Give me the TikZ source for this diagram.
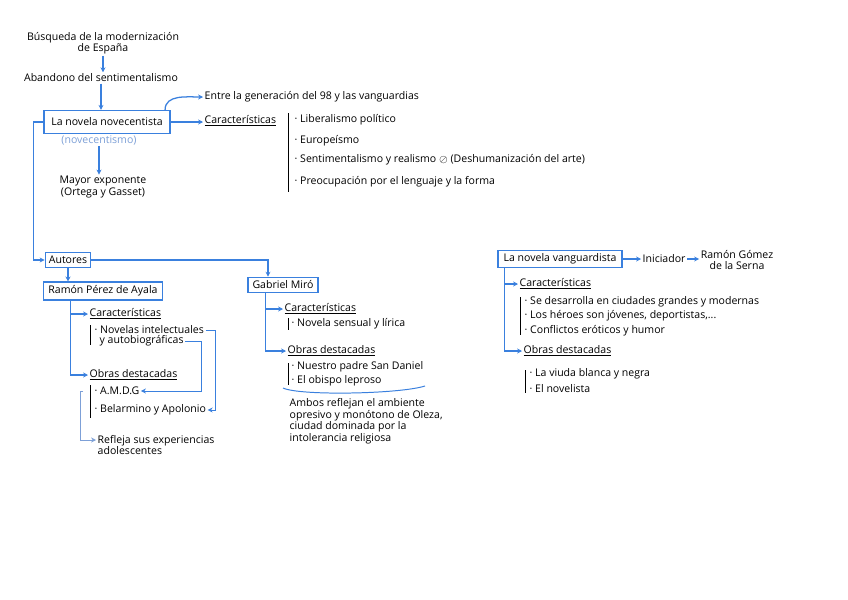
\documentclass[tikz,border=0pt]{standalone}
\usepackage{fontspec}
\setmainfont{Open Sans}
\usepackage{tikz}
\usetikzlibrary{arrows.meta, positioning, calc}
\definecolor{mapblue}{RGB}{58, 128, 222}
\definecolor{paleblue}{RGB}{125, 160, 215}

\begin{document}
\begin{tikzpicture}[x=0.025cm, y=-0.025cm,
    every node/.style={font=\fontsize{7.5}{8.2}\selectfont, inner sep=1pt},
    topic/.style={draw=mapblue, line width=1pt, fill=white, inner sep=2.5pt},
    plain/.style={align=center},
    item/.style={anchor=west, align=left},
    heading/.style={anchor=west},
    arrow/.style={-{Stealth[length=3.5pt, width=3.5pt]}, mapblue, line width=0.9pt},
    thinarrow/.style={arrow, line width=0.6pt},
    softarrow/.style={arrow, paleblue, line width=0.6pt},
    bar/.style={black, line width=0.6pt}
]
    \fill[white] (0,0) rectangle (848,599);
    \useasboundingbox (0,0) rectangle (848,599);

    % Origins
    \node[plain] (busqueda) at (103,43) {Búsqueda de la modernización\\de España};
    \node[plain] (abandono) at (101,78) {Abandono del sentimentalismo};
    \node[topic, minimum width=3.15cm, minimum height=0.57cm] (novecentista) at (107,122) {La novela novecentista};
    \node[text=paleblue] (novecentismo) at (99,140) {(novecentismo)};
    \node[plain] (exponente) at (103,187) {Mayor exponente\\(Ortega y Gasset)};

    \draw[arrow] (busqueda.south) -- (busqueda.south |- abandono.north);
    \draw[arrow] (abandono.south) -- (abandono.south |- novecentista.north);
    \draw[arrow] (novecentismo.south) -- (novecentismo.south |- exponente.north);

    % Novela novecentista: rasgos
    \node[heading] (entre) at (203,97) {Entre la generación del 98 y las vanguardias};
    \node[heading] (carNov) at (203,121) {\underline{Características}};
    \node[item] (liberalismo) at (293,120) {· Liberalismo político};
    \node[item] (europeismo) at (293,141) {· Europeísmo};
    \node[item] (sentimiento) at (293,160) {· Sentimentalismo y realismo $\oslash$ (Deshumanización del arte)};
    \node[item] (lenguaje) at (293,182) {· Preocupación por el lenguaje y la forma};
    \draw[bar] (288,113) -- (288,192);

    \draw[arrow] ([xshift=-4pt]novecentista.north east) to[out=90, in=180] (entre.west);
    \draw[arrow] (novecentista.east) -- (novecentista.east -| carNov.west);

    % Autores
    \node[topic, minimum width=1.12cm] (autores) at (68,260) {Autores};
    \node[topic, minimum width=2.98cm] (ramon) at (103,291) {Ramón Pérez de Ayala};
    \node[topic, minimum width=1.75cm] (gabriel) at (283,285) {Gabriel Miró};

    \draw[arrow] (novecentista.west) -- ++(-10,0) |- (autores.west);
    \draw[arrow] (autores.south) -- (autores.south |- ramon.north);
    \draw[arrow] (autores.east) -| ($(gabriel.north)+(-15,0)$);

    % Ramon Perez de Ayala
    \node[heading] (carRamon) at (88,314) {\underline{Características}};
    \node[item] (novelasA) at (93,330) {· Novelas intelectuales};
    \node[item] (novelasB) at (98,341) {y autobiográficas};
    \node[heading] (obrasRamon) at (88,375) {\underline{Obras destacadas}};
    \node[item] (amdg) at (93,391) {· A.M.D.G};
    \node[item] (belarmino) at (93,410) {· Belarmino y Apolonio};
    \node[item] (refleja) at (96,445) {Refleja sus experiencias\\adolescentes};
    \draw[bar] (90,325) -- (90,345);
    \draw[bar] (90,385) -- (90,418);

    \draw[arrow] ($(ramon.south west)+(28,0)$) |- (carRamon.west);
    \draw[arrow] ($(ramon.south west)+(28,0)$) |- (obrasRamon.west);
    \draw[thinarrow] (novelasA.east) -- ++(10,0) |- (belarmino.east);
    \draw[thinarrow] (novelasB.east) -- ++(16,0) |- (amdg.east);
    \draw[softarrow] ($(amdg.west)+(-10,0)$) -- ++(-3,0) |- ($(refleja.west)+(0,-5)$);

    % Gabriel Miro
    \node[heading] (carGabriel) at (283,309) {\underline{Características}};
    \node[item] (sensual) at (290,324) {· Novela sensual y lírica};
    \node[heading] (obrasGabriel) at (286,351) {\underline{Obras destacadas}};
    \node[item] (daniel) at (290,367) {· Nuestro padre San Daniel};
    \node[item] (obispo) at (290,381) {· El obispo leproso};
    \node[item, anchor=north west] (ambos) at (288,397)
        {Ambos reflejan el ambiente\\opresivo y monótono de Oleza,\\ciudad dominada por la\\intolerancia religiosa};
    \draw[bar] (288,318) -- (288,330);
    \draw[bar] (288,363) -- (288,385);
    \draw[mapblue, line width=0.7pt] (283,388) .. controls (300,396) and (400,394) .. (425,386);

    \draw[arrow] ($(gabriel.south west)+(18,0)$) |- (carGabriel.west);
    \draw[arrow] ($(gabriel.south west)+(18,0)$) |- (obrasGabriel.west);

    % Novela vanguardista
    \node[topic, minimum width=3.1cm] (vanguardista) at (560,259) {La novela vanguardista};
    \node[heading] (iniciador) at (641,259) {Iniciador};
    \node[plain] (gomez) at (737,260) {Ramón Gómez\\de la Serna};
    \node[heading] (carVang) at (518,284) {\underline{Características}};
    \node[item] (ciudades) at (523,302) {· Se desarrolla en ciudades grandes y modernas};
    \node[item] (heroes) at (523,316) {· Los héroes son jóvenes, deportistas,...};
    \node[item] (conflictos) at (523,331) {· Conflictos eróticos y humor};
    \node[heading] (obrasVang) at (522,351) {\underline{Obras destacadas}};
    \node[item] (viuda) at (528,374) {· La viuda blanca y negra};
    \node[item] (novelista) at (528,389) {· El novelista};
    \draw[bar] (520,297) -- (520,335);
    \draw[bar] (525,370) -- (525,393);

    \draw[arrow] (vanguardista.east) -- (iniciador.west);
    \draw[arrow] (iniciador.east) -- (iniciador.east -| gomez.west);
    \draw[arrow] ($(vanguardista.south west)+(7,0)$) |- (carVang.west);
    \draw[arrow] ($(vanguardista.south west)+(7,0)$) |- (obrasVang.west);
\end{tikzpicture}
\end{document}
